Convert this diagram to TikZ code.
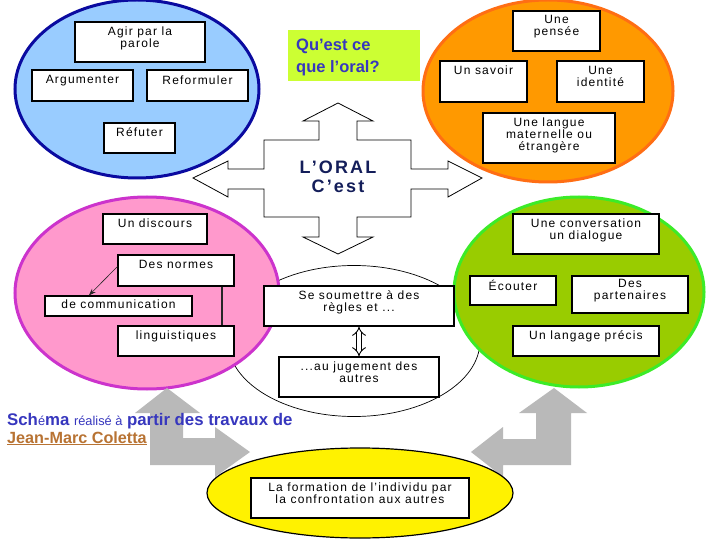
\documentclass[tikz,border=0pt]{standalone}
\usepackage{fontspec}
\setmainfont{Liberation Sans}
\newfontfamily\boxfont{Liberation Sans}[LetterSpace=10]
\newfontfamily\oralfont{Liberation Sans}[LetterSpace=12]
\usetikzlibrary{arrows.meta,calc,shapes.geometric}
\definecolor{bluefill}{RGB}{153,204,255}
\definecolor{blueline}{RGB}{10,10,160}
\definecolor{orfill}{RGB}{255,153,0}
\definecolor{orline}{RGB}{255,110,20}
\definecolor{pkfill}{RGB}{255,153,204}
\definecolor{pkline}{RGB}{204,51,204}
\definecolor{grfill}{RGB}{153,204,0}
\definecolor{grline}{RGB}{60,235,40}
\definecolor{qfill}{RGB}{204,255,51}
\definecolor{qtext}{RGB}{55,55,190}
\definecolor{oralnavy}{RGB}{20,30,90}
\definecolor{arrgray}{RGB}{185,185,185}
\definecolor{coletta}{RGB}{184,115,51}
\newcommand\smacc[1]{{\mdseries\fontsize{12.8}{12.8}\selectfont #1}}
\tikzset{
  bubble/.style={ellipse, inner sep=0pt, line width=3pt},
  boxs/.style={draw=black, fill=white, line width=1.1pt, inner sep=0pt},
  boxt/.style={font=\boxfont\fontsize{12}{12}\selectfont, align=center, inner sep=0pt, anchor=north},
  crossarrow/.style={fill=white, draw=black, line width=0.8pt, line join=miter},
  grayarrow/.style={fill=arrgray, draw=none},
  dblarrow/.style={double=white, double distance=4pt, line width=0.9pt, {Implies}-{Implies}},
}
\begin{document}
\begin{tikzpicture}[x=1pt,y=-1pt]
\useasboundingbox (0,0) rectangle (720,540);
\fill[white] (0,0) rectangle (720,540);

% white ellipse behind
\node[ellipse, draw=black, fill=white, line width=0.7pt, minimum width=252, minimum height=151, inner sep=0pt] (wel) at (354,341) {};

% coloured ellipses
\node[bubble, draw=blueline, fill=bluefill, minimum width=244, minimum height=178] (blue) at (137,89) {};
\node[bubble, draw=orline, fill=orfill, minimum width=250, minimum height=182] (orange) at (548,91) {};
\node[bubble, draw=pkline, fill=pkfill, minimum width=264, minimum height=192] (pink) at (147,293) {};
\node[bubble, draw=grline, fill=grfill, minimum width=250, minimum height=190] (green) at (579,292) {};

% central cross arrow
\draw[crossarrow] (338,103) -- (373,121) -- (357,121) -- (357,140) -- (411,140) -- (411,169)
  -- (448,169) -- (448,161) -- (482,178) -- (448,197) -- (448,189) -- (411,189) -- (411,217)
  -- (357,217) -- (357,237) -- (373,237) -- (338,254) -- (303,237) -- (319,237) -- (319,217)
  -- (264,217) -- (264,189) -- (228,189) -- (228,197) -- (193,178) -- (228,161) -- (228,169)
  -- (264,169) -- (264,140) -- (319,140) -- (319,121) -- (303,121) -- cycle;
\node[font=\oralfont\bfseries\fontsize{18}{18}\selectfont, text=oralnavy, inner sep=0pt] (oral) at (338,167) {L’ORAL};
\node[font=\oralfont\bfseries\fontsize{18}{18}\selectfont, text=oralnavy, inner sep=0pt] (cest) at (338,186) {C’est};

% grey bent arrows
\path[grayarrow] (167,388) -- (200,413) -- (183,413) -- (183,438) -- (215,438) -- (215,427)
  -- (250,452) -- (215,477) -- (215,465) -- (150,465) -- (150,413) -- (135,413) -- cycle;
\path[grayarrow] (554,388) -- (587,413) -- (571,413) -- (571,465) -- (503,465) -- (503,477)
  -- (471,452) -- (503,427) -- (503,439) -- (536,439) -- (536,413) -- (519,413) -- cycle;

% yellow ellipse
\node[ellipse, draw=black, fill=yellow, line width=1.2pt, minimum width=306, minimum height=90, inner sep=0pt] (yel) at (360,493) {};

% blue boxes
\node[boxs, minimum width=130, minimum height=40] (agir) at (140,42) {};
\node[boxt] (agirT) at ([yshift=-5pt]agir.north) {Agir par la\\parole};
\node[boxs, minimum width=101, minimum height=31] (argu) at (82.5,85.5) {};
\node[boxt] (arguT) at ([yshift=-6pt]argu.north) {Argumenter};
\node[boxs, minimum width=101, minimum height=31] (refo) at (197.5,85.5) {};
\node[boxt] (refoT) at ([yshift=-6pt]refo.north) {Reformuler};
\node[boxs, minimum width=71, minimum height=30] (refu) at (139.5,138) {};
\node[boxt] (refuT) at ([yshift=-5pt]refu.north) {Réfuter};

% orange boxes
\node[boxs, minimum width=87, minimum height=40] (pens) at (556.5,31) {};
\node[boxt] (pensT) at ([yshift=-5pt]pens.north) {Une\\pensée};
\node[boxs, minimum width=87, minimum height=41] (savo) at (483.5,81.5) {};
\node[boxt] (savoT) at ([yshift=-5pt]savo.north) {Un savoir};
\node[boxs, minimum width=87, minimum height=41] (iden) at (600.5,81.5) {};
\node[boxt] (idenT) at ([yshift=-6pt]iden.north) {Une\\identité};
\node[boxs, minimum width=132, minimum height=50] (lang) at (549,138) {};
\node[boxt] (langT) at ([yshift=-5pt]lang.north) {Une langue\\maternelle ou\\étrangère};

% pink boxes
\node[boxs, minimum width=104, minimum height=30] (disc) at (155,229) {};
\node[boxt] (discT) at ([yshift=-5pt]disc.north) {Un discours};
\node[boxs, minimum width=116, minimum height=31] (norm) at (176,270.5) {};
\node[boxt] (normT) at ([yshift=-6pt]norm.north) {Des normes};
\node[boxs, minimum width=147, minimum height=20] (comm) at (118.5,306) {};
\node[boxt] (commT) at ([yshift=-4pt]comm.north) {de communication};
\node[boxs, minimum width=116, minimum height=30] (ling) at (176,341) {};
\node[boxt] (lingT) at ([yshift=-5pt]ling.north) {linguistiques};

% middle boxes
\node[boxs, minimum width=190, minimum height=40] (soum) at (359,306) {};
\node[boxt] (soumT) at ([yshift=-5pt]soum.north) {Se soumettre à des\\règles et ...};
\node[boxs, minimum width=160, minimum height=40] (juge) at (359,377) {};
\node[boxt] (jugeT) at ([yshift=-5pt]juge.north) {...au jugement des\\autres};

% green boxes
\node[boxs, minimum width=146, minimum height=40] (conv) at (586,234) {};
\node[boxt] (convT) at ([yshift=-5pt]conv.north) {Une conversation\\un dialogue};
\node[boxs, minimum width=86, minimum height=29] (ecou) at (513,290.5) {};
\node[boxt] (ecouT) at ([yshift=-4pt]ecou.north) {Écouter};
\node[boxs, minimum width=116, minimum height=37] (part) at (630,294.5) {};
\node[boxt] (partT) at ([yshift=-4pt]part.north) {Des\\partenaires};
\node[boxs, minimum width=146, minimum height=30] (prec) at (586,341) {};
\node[boxt] (precT) at ([yshift=-5pt]prec.north) {Un langage précis};

% yellow box
\node[boxs, minimum width=218, minimum height=40] (form) at (360,498) {};
\node[boxt] (formT) at ([yshift=-5pt]form.north) {La formation de l’individu par\\la confrontation aux autres};

% question box
\node[fill=qfill, minimum width=132, minimum height=51, inner sep=0pt] (qbox) at (354,55.5) {};
\node[anchor=north west, align=left, text=qtext, font=\bfseries\fontsize{16.5}{22}\selectfont, inner sep=0pt] (qtxt) at (296,38.5) {Qu’est ce\\que l’oral?};

% credit text
\node[anchor=base west, inner sep=0pt, text=qtext, font=\bfseries\fontsize{16.8}{16.8}\selectfont] (credit) at (7,425)
  {Sch\smacc{é}ma \smacc{réalisé à} partir des travaux de};
\node[anchor=base west, inner sep=0pt, text=coletta, font=\bfseries\fontsize{16.2}{16.2}\selectfont] (author) at (7,443)
  {\underline{Jean-Marc Coletta}};

% connectors
\draw[-{Stealth[length=7pt,width=5pt]}, line width=0.6pt, black!85] ([yshift=4pt]norm.west) -- ($(comm.north west)!0.3!(comm.north east)$);
\coordinate (vl) at ($(norm.south west)!0.89!(norm.south east)$);
\draw[line width=2pt, black!85] (vl) -- (vl |- ling.north);
\draw[dblarrow] (soum.south) -- (juge.north);
\end{tikzpicture}
\end{document}
